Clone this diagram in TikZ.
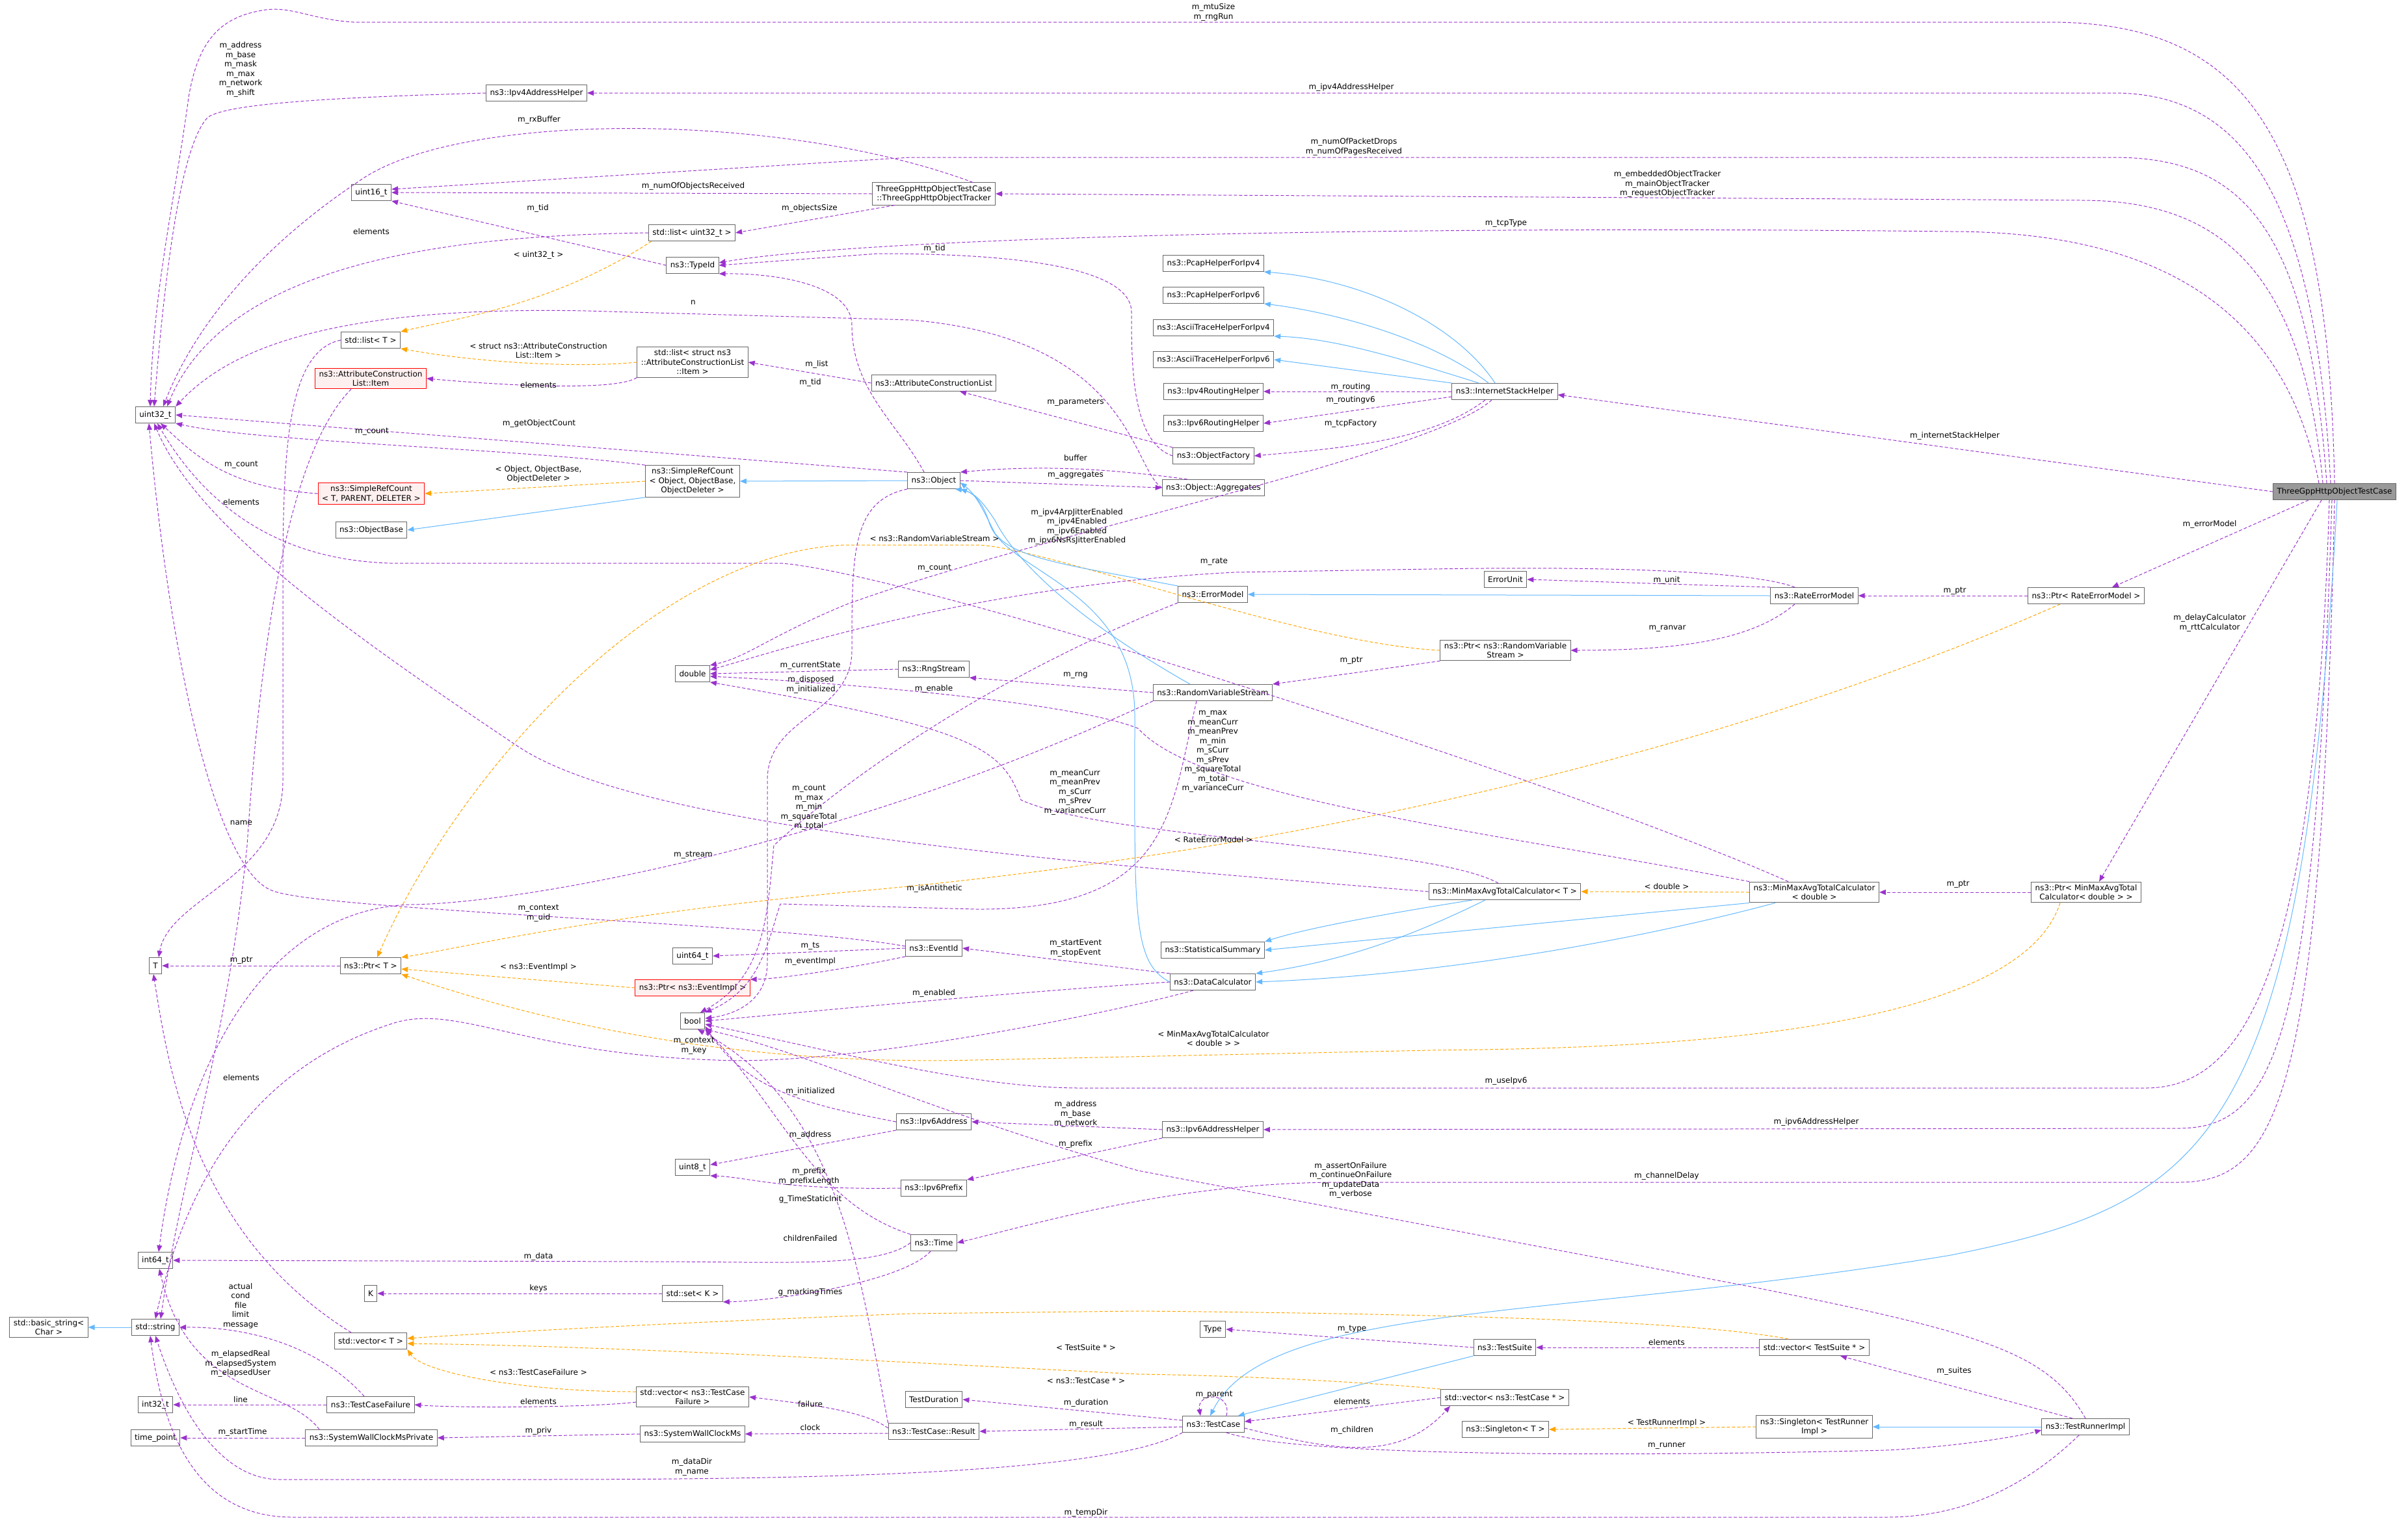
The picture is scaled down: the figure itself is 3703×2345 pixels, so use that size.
\documentclass[tikz,border=0pt]{standalone}
\usepackage{fontspec}
\setmainfont{DejaVu Sans}
\usetikzlibrary{arrows.meta}
\definecolor{mp}{HTML}{9A32CD}
\definecolor{ib}{HTML}{63B8FF}
\definecolor{tp}{HTML}{FFA500}
\begin{document}
\begin{tikzpicture}[x=1pt,y=-1pt,
 every node/.style={font=\fontsize{12}{14.5}\selectfont},
 cls/.style={draw=black!60,fill=white,rectangle,inner xsep=6pt,inner ysep=4pt,minimum height=25pt,align=center,line width=1pt},
 redc/.style={cls,draw=red,fill=red!6},
 lbl/.style={align=center,inner sep=0pt},
 mem/.style={mp,dashed,line width=1pt,dash pattern=on 5pt off 3pt,-{Triangle[length=10pt,width=8pt]}},
 inh/.style={ib,line width=1pt,-{Triangle[length=10pt,width=8pt]}},
 tpl/.style={tp,dashed,line width=1pt,dash pattern=on 5pt off 3pt,-{Triangle[length=10pt,width=8pt]}}]
\useasboundingbox (0,0) rectangle (3703,2345);
% nodes
\node[cls] (u32) at (239,638) {uint32\_t};
\node[cls] (ipv4ah) at (825,143) {ns3::Ipv4AddressHelper};
\node[cls] (u16) at (571,296) {uint16\_t};
\node[cls] (tracker) at (1436,298) {ThreeGppHttpObjectTestCase\\::ThreeGppHttpObjectTracker};
\node[cls] (listu32) at (1064,358) {std::list< uint32\_t >};
\node[cls] (typeid) at (1065,408) {ns3::TypeId};
\node[cls] (listT) at (570,523) {std::list< T >};
\node[redc] (item) at (570,582) {ns3::AttributeConstruction\\List::Item};
\node[cls] (lists) at (1065,557) {std::list< struct ns3\\::AttributeConstructionList\\::Item >};
\node[cls] (acl) at (1436,589) {ns3::AttributeConstructionList};
\node[redc] (srct) at (571,759) {ns3::SimpleRefCount\\< T, PARENT, DELETER >};
\node[cls] (objbase) at (571,815) {ns3::ObjectBase};
\node[cls] (srco) at (1065,740) {ns3::SimpleRefCount\\< Object, ObjectBase,\\ObjectDeleter >};
\node[cls] (object) at (1436,739) {ns3::Object};
\node[cls] (agg) at (1866,750) {ns3::Object::Aggregates};
\node[cls] (of) at (1866,701) {ns3::ObjectFactory};
\node[cls] (ipv6r) at (1866,651) {ns3::Ipv6RoutingHelper};
\node[cls] (ipv4r) at (1866,602) {ns3::Ipv4RoutingHelper};
\node[cls] (ascii6) at (1866,553) {ns3::AsciiTraceHelperForIpv6};
\node[cls] (ascii4) at (1866,504) {ns3::AsciiTraceHelperForIpv4};
\node[cls] (pcap6) at (1866,454) {ns3::PcapHelperForIpv6};
\node[cls] (pcap4) at (1866,405) {ns3::PcapHelperForIpv4};
\node[cls] (ish) at (2314,602) {ns3::InternetStackHelper};
\node[cls,fill=black!40] (tc) at (3590,756) {ThreeGppHttpObjectTestCase};
\node[cls] (eu) at (2315,891) {ErrorUnit};
\node[cls] (rem) at (2790,916) {ns3::RateErrorModel};
\node[cls] (prem) at (3208,916) {ns3::Ptr< RateErrorModel >};
\node[cls] (em) at (1865,914) {ns3::ErrorModel};
\node[cls] (prvs) at (2315,1000) {ns3::Ptr< ns3::RandomVariable\\Stream >};
\node[cls] (double) at (1065,1036) {double};
\node[cls] (rng) at (1436,1029) {ns3::RngStream};
\node[cls] (rvs) at (1865,1065) {ns3::RandomVariableStream};
\node[cls] (mmt) at (2314,1371) {ns3::MinMaxAvgTotalCalculator< T >};
\node[cls] (mmd) at (2790,1372) {ns3::MinMaxAvgTotalCalculator\\< double >};
\node[cls] (pmm) at (3208,1372) {ns3::Ptr< MinMaxAvgTotal\\Calculator< double > >};
\node[cls] (ss) at (1865,1461) {ns3::StatisticalSummary};
\node[cls] (dc) at (1865,1510) {ns3::DataCalculator};
\node[cls] (eventid) at (1436,1458) {ns3::EventId};
\node[cls] (u64) at (1065,1470) {uint64\_t};
\node[cls] (T) at (239,1485) {T};
\node[cls] (ptrT) at (570,1485) {ns3::Ptr< T >};
\node[redc] (ptre) at (1065,1519) {ns3::Ptr< ns3::EventImpl >};
\node[cls] (bool) at (1065,1570) {bool};
\node[cls] (ipv6a) at (1436,1725) {ns3::Ipv6Address};
\node[cls] (ipv6ah) at (1865,1737) {ns3::Ipv6AddressHelper};
\node[cls] (u8) at (1065,1795) {uint8\_t};
\node[cls] (ipv6p) at (1436,1827) {ns3::Ipv6Prefix};
\node[cls] (time) at (1436,1911) {ns3::Time};
\node[cls] (int64) at (239,1938) {int64\_t};
\node[cls] (K) at (570,1989) {K};
\node[cls] (setk) at (1065,1989) {std::set< K >};
\node[cls] (string) at (239,2041) {std::string};
\node[cls] (bstring) at (75,2041) {std::basic\_string<\\Char >};
\node[cls] (vecT) at (570,2062) {std::vector< T >};
\node[cls] (type) at (1865,2044) {Type};
\node[cls] (ts) at (2314,2072) {ns3::TestSuite};
\node[cls] (vects) at (2790,2072) {std::vector< TestSuite * >};
\node[cls] (vectcf) at (1065,2148) {std::vector< ns3::TestCase\\Failure >};
\node[cls] (vectc) at (2314,2149) {std::vector< ns3::TestCase * >};
\node[cls] (td) at (1436,2152) {TestDuration};
\node[cls] (int32) at (239,2160) {int32\_t};
\node[cls] (tcf) at (570,2160) {ns3::TestCaseFailure};
\node[cls] (testcase) at (1866,2190) {ns3::TestCase};
\node[cls] (st) at (2315,2198) {ns3::Singleton< T >};
\node[cls] (stri) at (2790,2194) {ns3::Singleton< TestRunner\\Impl >};
\node[cls] (tri) at (3207,2194) {ns3::TestRunnerImpl};
\node[cls] (result) at (1436,2201) {ns3::TestCase::Result};
\node[cls] (swcm) at (1065,2205) {ns3::SystemWallClockMs};
\node[cls] (swcmp) at (571,2211) {ns3::SystemWallClockMsPrivate};
\node[cls] (tpt) at (239,2211) {time\_point};
% edges from the test case
\draw[mem] (tc.north) .. controls (3580,200) and (3450,34) .. (3150,34) -- (543,34) .. controls (480,30) and (450,10) .. (409,15) .. controls (340,25) and (305,60) .. (290,150) .. controls (270,300) and (235,450) .. ([xshift=-8pt]u32.north);
\draw[mem] ([xshift=-6pt]tc.north) .. controls (3560,300) and (3450,143) .. (3250,143) -- (ipv4ah.east);
\draw[mem] ([xshift=-12pt]tc.north) .. controls (3550,350) and (3450,242) .. (3250,242) -- (1400,242) -- ([yshift=5pt]u16.east);
\draw[mem] ([xshift=-18pt]tc.north) .. controls (3540,400) and (3400,308) .. (3200,308) -- (tracker.east);
\draw[mem] ([xshift=-24pt]tc.north) .. controls (3520,500) and (3350,356) .. (3000,356) .. controls (2000,345) and (1300,370) .. ([yshift=4pt]typeid.east);
\draw[mem] (tc.west) -- ([yshift=-5pt]ish.east);
\draw[mem] ([xshift=-40pt]tc.south) -- ([xshift=40pt]prem.north);
\draw[mem] ([xshift=-20pt]tc.south) -- ([xshift=20pt]pmm.north);
\draw[mem] ([xshift=-8pt]tc.south) .. controls (3560,1500) and (3450,1673) .. (3300,1673) -- (1660,1673) .. controls (1500,1673) and (1300,1620) .. ([yshift=-5pt]bool.east);
\draw[mem] ([xshift=-4pt]tc.south) .. controls (3560,1600) and (3500,1735) .. (3350,1735) -- (ipv6ah.east);
\draw[mem] (tc.south) .. controls (3570,1700) and (3500,1818) .. (3350,1818) -- (2050,1818) .. controls (1800,1820) and (1600,1880) .. (time.east);
\draw[inh] ([xshift=4pt]tc.south) .. controls (3540,1750) and (3400,1850) .. (3000,1930) .. controls (2400,2030) and (1950,2000) .. ([xshift=-5pt]testcase.north);
% Ipv4AddressHelper
\draw[mem] (ipv4ah.west) .. controls (500,150) and (350,160) .. (320,180) .. controls (280,220) and (255,400) .. ([xshift=-2pt]u32.north);
% tracker
\draw[mem] ([xshift=60pt]tracker.north) .. controls (1200,170) and (700,170) .. (550,280) .. controls (400,380) and (300,500) .. ([xshift=12pt]u32.north);
\draw[mem] (tracker.west) -- (u16.east);
\draw[mem] ([xshift=-60pt]tracker.south) -- (listu32.east);
\draw[mem] (listu32.west) .. controls (700,362) and (350,400) .. ([xshift=18pt]u32.north);
\draw[tpl] ([xshift=5pt]listu32.south west) .. controls (850,470) and (700,490) .. (listT.north east);
\draw[mem] (typeid.west) -- (u16.south east);
\draw[mem] (agg.west) .. controls (1740,720) and (1740,520) .. (1400,492) -- (900,478) .. controls (500,470) and (350,540) .. (u32.north east);
\draw[mem] (object.north west) -- (u32.east);
\draw[mem] (srco.north west) .. controls (800,690) and (400,680) .. (u32.south east);
\draw[mem] (srct.west) .. controls (350,750) and (300,700) .. ([xshift=8pt]u32.south);
\draw[mem] ([xshift=-40pt]mmd.north) .. controls (2400,1200) and (1400,880) .. (1200,866) -- (600,866) .. controls (400,860) and (300,750) .. ([xshift=3pt]u32.south);
\draw[mem] (mmt.west) .. controls (1700,1330) and (1000,1280) .. (800,1150) .. controls (500,950) and (300,800) .. ([xshift=-2pt]u32.south);
\draw[mem] ([yshift=3pt]eventid.west) .. controls (1200,1420) and (500,1400) .. (420,1370) .. controls (330,1340) and (260,1000) .. ([xshift=-10pt]u32.south);
\draw[mem] (listT.west) .. controls (440,540) and (435,700) .. (435,900) -- (435,1200) .. controls (435,1350) and (260,1380) .. ([xshift=5pt]T.north);
\draw[mem] ([xshift=-30pt]item.south) .. controls (440,700) and (400,1000) .. (380,1300) .. controls (350,1600) and (280,1800) .. ([xshift=8pt]string.north);
\draw[mem] ([xshift=-30pt]vecT.north) .. controls (300,1900) and (260,1650) .. ([xshift=-3pt]T.south);
\draw[mem] (rvs.south west) .. controls (1300,1300) and (800,1390) .. (630,1391) .. controls (400,1400) and (280,1650) .. ([xshift=5pt]int64.north);
\draw[mem] ([xshift=-30pt]dc.south) .. controls (1700,1560) and (1300,1640) .. (1100,1630) .. controls (800,1620) and (700,1540) .. (600,1575) .. controls (400,1640) and (290,1800) .. (string.north);
\draw[mem] ([xshift=-10pt]tcf.north) .. controls (500,2080) and (400,2040) .. (string.east);
\draw[mem] (testcase.south west) .. controls (1700,2270) and (1200,2275) .. (800,2275) -- (430,2275) .. controls (330,2275) and (270,2150) .. (string.south);
\draw[mem] ([xshift=-10pt]tri.south) .. controls (3100,2300) and (3000,2333) .. (2900,2333) -- (450,2333) .. controls (300,2333) and (250,2200) .. ([xshift=-8pt]string.south);
\draw[mem] ([xshift=-80pt]swcmp.north) .. controls (440,2130) and (290,2150) .. ([xshift=6pt]int64.south);
\draw[inh] (string.west) -- (bstring.east);
\draw[mem] (tcf.west) -- (int32.east);
\draw[mem] (swcmp.west) -- (tpt.east);
\draw[mem] (swcm.west) -- (swcmp.east);
\draw[mem] ([yshift=-8pt]vectcf.west) .. controls (900,2165) and (700,2165) .. (tcf.east);
\draw[tpl] ([yshift=8pt]vectcf.west) .. controls (800,2140) and (650,2110) .. (vecT.south east);
\draw[mem] (setk.west) -- (K.east);
\draw[mem] ([xshift=-5pt]time.south) .. controls (1390,1970) and (1200,2000) .. (setk.south east);
\draw[mem] (time.west) .. controls (1350,1950) and (1200,1940) .. (1000,1940) -- (int64.east);
\draw[mem] (result.north west) .. controls (1320,1950) and (1290,1700) .. ([xshift=8pt]bool.south);
\draw[mem] (time.north west) .. controls (1250,1850) and (1200,1700) .. (bool.south east);
\draw[mem] (ipv6a.west) .. controls (1250,1700) and (1150,1680) .. ([yshift=-8pt]bool.east);
\draw[mem] (ipv6a.south west) -- ([yshift=4pt]u8.east);
\draw[mem] (ipv6p.west) .. controls (1200,1830) and (1150,1810) .. (u8.south east);
\draw[mem] ([yshift=5pt]result.west) .. controls (1330,2170) and (1250,2160) .. (vectcf.east);
\draw[mem] ([yshift=-3pt]result.west) -- (swcm.east);
\draw[mem] (ptrT.west) -- (T.east);
\draw[tpl] (ptre.west) -- ([yshift=-5pt]ptrT.east);
\draw[tpl] (prvs.west) .. controls (2000,990) and (1600,838) .. (1500,838) -- (1300,838) .. controls (1000,850) and (700,1200) .. ([xshift=10pt]ptrT.north);
\draw[tpl] ([xshift=-40pt]prem.south) .. controls (2600,1180) and (1900,1320) .. (1300,1372) .. controls (900,1410) and (700,1460) .. (ptrT.north east);
\draw[tpl] ([xshift=-40pt]pmm.south) .. controls (3100,1600) and (2500,1612) .. (2200,1615) -- (1500,1630) .. controls (1100,1640) and (800,1560) .. (ptrT.south east);
\draw[mem] (eventid.west) -- (u64.east);
\draw[mem] (eventid.south west) .. controls (1300,1490) and (1200,1505) .. (ptre.north east);
\draw[mem] (dc.north west) -- (eventid.east);
\draw[mem] (dc.west) .. controls (1500,1530) and (1200,1560) .. (bool.east);
\draw[mem] ([xshift=-25pt]rvs.south) .. controls (1800,1250) and (1800,1400) .. (1500,1398) -- (1200,1390) .. controls (1180,1450) and (1170,1520) .. (bool.north east);
\draw[mem] ([xshift=-10pt]mmt.north) .. controls (2200,1300) and (1700,1290) .. (1570,1230) .. controls (1540,1150) and (1500,1120) .. (double.south east);
\draw[mem] (mmd.north west) .. controls (2300,1280) and (1850,1230) .. (1750,1120) .. controls (1650,1080) and (1300,1050) .. ([yshift=-4pt]double.east);
\draw[mem] (em.south west) .. controls (1550,1030) and (1320,1180) .. (1190,1300) .. controls (1180,1400) and (1180,1500) .. ([xshift=12pt]bool.north);
\draw[mem] (object.south west) .. controls (1310,770) and (1310,850) .. (1310,1000) .. controls (1310,1100) and (1180,1100) .. (1180,1200) -- (1180,1480) .. controls (1180,1540) and (1130,1560) .. ([yshift=4pt]bool.east);
\draw[mem] (rng.west) -- (double.east);
\draw[mem] (rvs.west) -- (rng.south east);
\draw[mem] ([xshift=-30pt]rem.north) .. controls (2700,880) and (2500,870) .. (2200,875) -- (1900,880) .. controls (1500,900) and (1200,1000) .. ([yshift=6pt]double.east);
\draw[mem] ([xshift=-20pt]ish.south) .. controls (2200,700) and (1600,820) .. (1300,930) .. controls (1180,980) and (1150,1010) .. (double.north east);
\draw[mem] ([xshift=-15pt]object.north) .. controls (1380,650) and (1310,600) .. (1310,500) .. controls (1310,440) and (1200,420) .. (typeid.south east);
\draw[mem] (of.west) .. controls (1740,680) and (1740,560) .. (1740,480) .. controls (1740,400) and (1500,390) .. (1350,390) -- (typeid.east);
\draw[mem] (acl.west) -- (lists.east);
\draw[mem] (of.north west) -- ([xshift=40pt]acl.south);
\draw[mem] ([xshift=-40pt]agg.north) .. controls (1700,720) and (1600,715) .. (object.north east);
\draw[mem] (object.east) -- (agg.west);
\draw[inh] (object.west) -- (srco.east);
\draw[inh] (srco.south west) -- (objbase.east);
\draw[tpl] (srco.west) -- (srct.east);
\draw[tpl] (lists.west) .. controls (900,565) and (750,560) .. (listT.south east);
\draw[mem] (lists.south west) .. controls (950,600) and (800,595) .. (item.east);
\draw[inh] ([xshift=-15pt]ish.north) .. controls (2240,500) and (2100,430) .. (pcap4.south east);
\draw[inh] ([xshift=-25pt]ish.north) .. controls (2200,520) and (2050,480) .. (pcap6.south east);
\draw[inh] ([xshift=-40pt]ish.north) .. controls (2150,550) and (2050,520) .. (ascii4.south east);
\draw[inh] (ish.north west) -- (ascii6.east);
\draw[mem] (ish.west) -- (ipv4r.east);
\draw[mem] ([yshift=-8pt]ish.west) -- (ipv6r.east);
\draw[mem] ([xshift=-30pt]ish.south) .. controls (2200,680) and (2050,690) .. (of.east);
\draw[inh] (rem.west) -- (em.east);
\draw[mem] (rem.north west) -- (eu.east);
\draw[mem] ([xshift=-30pt]rem.south) .. controls (2700,980) and (2600,1000) .. (prvs.east);
\draw[mem] (prem.west) -- (rem.east);
\draw[mem] (prvs.south west) -- (rvs.north east);
\draw[mem] (pmm.west) -- (mmd.east);
\draw[tpl] (mmd.west) -- (mmt.east);
\draw[inh] ([xshift=-50pt]mmt.south) .. controls (2100,1410) and (2000,1430) .. (ss.north east);
\draw[inh] ([xshift=-30pt]mmt.south) .. controls (2150,1450) and (2050,1480) .. (dc.north east);
\draw[inh] (mmd.south west) -- (ss.east);
\draw[inh] ([xshift=-60pt]mmd.south) .. controls (2500,1450) and (2200,1500) .. (dc.east);
\draw[inh] (em.north west) .. controls (1650,870) and (1560,860) .. (1530,820) .. controls (1510,780) and (1500,760) .. ([yshift=-3pt]object.east);
\draw[inh] ([xshift=-35pt]rvs.north) .. controls (1650,950) and (1560,860) .. (1530,800) .. controls (1510,770) and (1500,760) .. (object.south east);
\draw[inh] (dc.west) .. controls (1740,1480) and (1745,1400) .. (1745,1100) .. controls (1745,900) and (1540,880) .. (1520,800) .. controls (1510,770) and (1495,755) .. ([xshift=-8pt]object.south east);
\draw[mem] (ipv6ah.west) -- (ipv6a.east);
\draw[mem] (ipv6ah.south west) -- (ipv6p.north east);
\draw[mem] (tri.north) .. controls (3150,2080) and (3050,2050) .. (2700,1980) -- (1750,1800) .. controls (1400,1700) and (1250,1620) .. (bool.south east);
\draw[mem] (ts.west) -- (type.east);
\draw[mem] (vects.west) -- (ts.east);
\draw[mem] ([xshift=-20pt]tri.north) -- ([xshift=40pt]vects.south);
\draw[mem] (vectc.west) -- ([yshift=4pt]testcase.east);
\draw[mem] ([yshift=-6pt]testcase.east) .. controls (2050,2230) and (2150,2250) .. ([xshift=15pt]vectc.south west);
\draw[mem] ([xshift=20pt]testcase.north) .. controls (1895,2140) and (1840,2140) .. ([xshift=-20pt]testcase.north);
\draw[tpl] (stri.west) -- (st.east);
\draw[inh] (tri.west) -- (stri.east);
\draw[mem] ([xshift=20pt]testcase.south) .. controls (2000,2240) and (2500,2240) .. (2900,2230) .. controls (3000,2225) and (3100,2210) .. ([yshift=-5pt]tri.west);
\draw[inh] (ts.south west) -- ([xshift=-10pt]testcase.north east);
\draw[mem] ([yshift=6pt]testcase.west) -- (td.east);
\draw[mem] ([yshift=-4pt]testcase.west) -- (result.east);
\draw[tpl] ([xshift=-40pt]vects.north) .. controls (2600,2030) and (2200,2020) .. (1750,2016) -- (1400,2020) .. controls (1000,2035) and (750,2050) .. ([yshift=4pt]vecT.east);
\draw[tpl] (vectc.north west) .. controls (2100,2125) and (1900,2115) .. (1750,2113) -- (1400,2095) .. controls (1000,2075) and (800,2068) .. ([yshift=-4pt]vecT.east);
% labels
\node[lbl] (l1) at (1866,19) {m\_mtuSize\\m\_rngRun};
\node[lbl] (l2) at (2078,134) {m\_ipv4AddressHelper};
\node[lbl] (l3) at (370,107) {m\_address\\m\_base\\m\_mask\\m\_max\\m\_network\\m\_shift};
\node[lbl] (l4) at (2082,226) {m\_numOfPacketDrops\\m\_numOfPagesReceived};
\node[lbl] (l5) at (2564,283) {m\_embeddedObjectTracker\\m\_mainObjectTracker\\m\_requestObjectTracker};
\node[lbl] (l6) at (2316,344) {m\_tcpType};
\node[lbl] (l7) at (3006,670) {m\_internetStackHelper};
\node[lbl] (l8) at (3398,806) {m\_errorModel};
\node[lbl] (l9) at (3398,958) {m\_delayCalculator\\m\_rttCalculator};
\node[lbl] (l10) at (2316,1662) {m\_useIpv6};
\node[lbl] (l11) at (2793,1725) {m\_ipv6AddressHelper};
\node[lbl] (l12) at (2563,1808) {m\_channelDelay};
\node[lbl] (l14) at (829,184) {m\_rxBuffer};
\node[lbl] (l15) at (1066,286) {m\_numOfObjectsReceived};
\node[lbl] (l16) at (1245,320) {m\_objectsSize};
\node[lbl] (l17) at (571,356) {elements};
\node[lbl] (l18) at (828,392) {< uint32\_t >};
\node[lbl] (l19) at (827,320) {m\_tid};
\node[lbl] (l20) at (1066,465) {n};
\node[lbl] (l21) at (829,651) {m\_getObjectCount};
\node[lbl] (l22) at (572,664) {m\_count};
\node[lbl] (l23) at (371,715) {m\_count};
\node[lbl] (l24) at (371,772) {elements};
\node[lbl] (l25) at (1437,874) {m\_count};
\node[lbl] (l26) at (1244,1242) {m\_count\\m\_max\\m\_min\\m\_squareTotal\\m\_total};
\node[lbl] (l27) at (828,1404) {m\_context\\m\_uid};
\node[lbl] (l28) at (371,1265) {name};
\node[lbl] (l29) at (371,1657) {elements};
\node[lbl] (l30) at (1066,1315) {m\_stream};
\node[lbl] (l31) at (1067,1608) {m\_context\\m\_key};
\node[lbl] (l32) at (370,2008) {actual\\cond\\file\\limit\\message};
\node[lbl] (l33) at (1064,2256) {m\_dataDir\\m\_name};
\node[lbl] (l34) at (1670,2326) {m\_tempDir};
\node[lbl] (l35) at (370,2097) {m\_elapsedReal\\m\_elapsedSystem\\m\_elapsedUser};
\node[lbl] (l36) at (370,2152) {line};
\node[lbl] (l37) at (373,2202) {m\_startTime};
\node[lbl] (l38) at (828,2200) {m\_priv};
\node[lbl] (l39) at (828,2155) {elements};
\node[lbl] (l40) at (828,2110) {< ns3::TestCaseFailure >};
\node[lbl] (l41) at (828,1981) {keys};
\node[lbl] (l42) at (1246,1987) {g\_markingTimes};
\node[lbl] (l43) at (828,1932) {m\_data};
\node[lbl] (l44) at (1246,1904) {childrenFailed};
\node[lbl] (l45) at (1246,1844) {g\_TimeStaticInit};
\node[lbl] (l46) at (1244,1809) {m\_prefix\\m\_prefixLength};
\node[lbl] (l47) at (1246,1745) {m\_address};
\node[lbl] (l48) at (1246,1678) {m\_initialized};
\node[lbl] (l49) at (1246,2159) {failure};
\node[lbl] (l50) at (1246,2195) {clock};
\node[lbl] (l51) at (371,1477) {m\_ptr};
\node[lbl] (l52) at (828,1487) {< ns3::EventImpl >};
\node[lbl] (l53) at (1437,828) {< ns3::RandomVariableStream >};
\node[lbl] (l54) at (1866,1291) {< RateErrorModel >};
\node[lbl] (l55) at (1866,1597) {< MinMaxAvgTotalCalculator\\< double > >};
\node[lbl] (l56) at (1246,1455) {m\_ts};
\node[lbl] (l57) at (1246,1478) {m\_eventImpl};
\node[lbl] (l58) at (1654,1458) {m\_startEvent\\m\_stopEvent};
\node[lbl] (l59) at (1436,1527) {m\_enabled};
\node[lbl] (l60) at (1437,1366) {m\_isAntithetic};
\node[lbl] (l61) at (1653,1218) {m\_meanCurr\\m\_meanPrev\\m\_sCurr\\m\_sPrev\\m\_varianceCurr};
\node[lbl] (l62) at (1865,1156) {m\_max\\m\_meanCurr\\m\_meanPrev\\m\_min\\m\_sCurr\\m\_sPrev\\m\_squareTotal\\m\_total\\m\_varianceCurr};
\node[lbl] (l63) at (1436,1059) {m\_enable};
\node[lbl] (l64) at (1247,1053) {m\_disposed\\m\_initialized};
\node[lbl] (l65) at (1246,1023) {m\_currentState};
\node[lbl] (l66) at (1654,1039) {m\_rng};
\node[lbl] (l67) at (1867,864) {m\_rate};
\node[lbl] (l68) at (1656,810) {m\_ipv4ArpJitterEnabled\\m\_ipv4Enabled\\m\_ipv6Enabled\\m\_ipv6NsRsJitterEnabled};
\node[lbl] (l69) at (1246,588) {m\_tid};
\node[lbl] (l70) at (1437,382) {m\_tid};
\node[lbl] (l71) at (1256,560) {m\_list};
\node[lbl] (l72) at (1654,619) {m\_parameters};
\node[lbl] (l73) at (1654,704) {buffer};
\node[lbl] (l74) at (1654,731) {m\_aggregates};
\node[lbl] (l75) at (828,729) {< Object, ObjectBase,\\ObjectDeleter >};
\node[lbl] (l76) at (828,539) {< struct ns3::AttributeConstruction\\List::Item >};
\node[lbl] (l77) at (828,592) {elements};
\node[lbl] (l78) at (2077,595) {m\_routing};
\node[lbl] (l79) at (2077,615) {m\_routingv6};
\node[lbl] (l80) at (2077,652) {m\_tcpFactory};
\node[lbl] (l81) at (2563,892) {m\_unit};
\node[lbl] (l82) at (2564,967) {m\_ranvar};
\node[lbl] (l83) at (3006,909) {m\_ptr};
\node[lbl] (l84) at (2078,1016) {m\_ptr};
\node[lbl] (l85) at (3011,1360) {m\_ptr};
\node[lbl] (l86) at (2563,1363) {< double >};
\node[lbl] (l87) at (1654,1713) {m\_address\\m\_base\\m\_network};
\node[lbl] (l88) at (1654,1759) {m\_prefix};
\node[lbl] (l89) at (2077,1815) {m\_assertOnFailure\\m\_continueOnFailure\\m\_updateData\\m\_verbose};
\node[lbl] (l90) at (2079,2044) {m\_type};
\node[lbl] (l91) at (2563,2064) {elements};
\node[lbl] (l92) at (3005,2108) {m\_suites};
\node[lbl] (l93) at (2079,2155) {elements};
\node[lbl] (l94) at (2079,2199) {m\_children};
\node[lbl] (l95) at (1867,2145) {m\_parent};
\node[lbl] (l96) at (2563,2188) {< TestRunnerImpl >};
\node[lbl] (l97) at (2563,2224) {m\_runner};
\node[lbl] (l98) at (1670,2157) {m\_duration};
\node[lbl] (l99) at (1670,2190) {m\_result};
\node[lbl] (l100) at (1670,2072) {< TestSuite * >};
\node[lbl] (l101) at (1670,2123) {< ns3::TestCase * >};
\end{tikzpicture}
\end{document}
